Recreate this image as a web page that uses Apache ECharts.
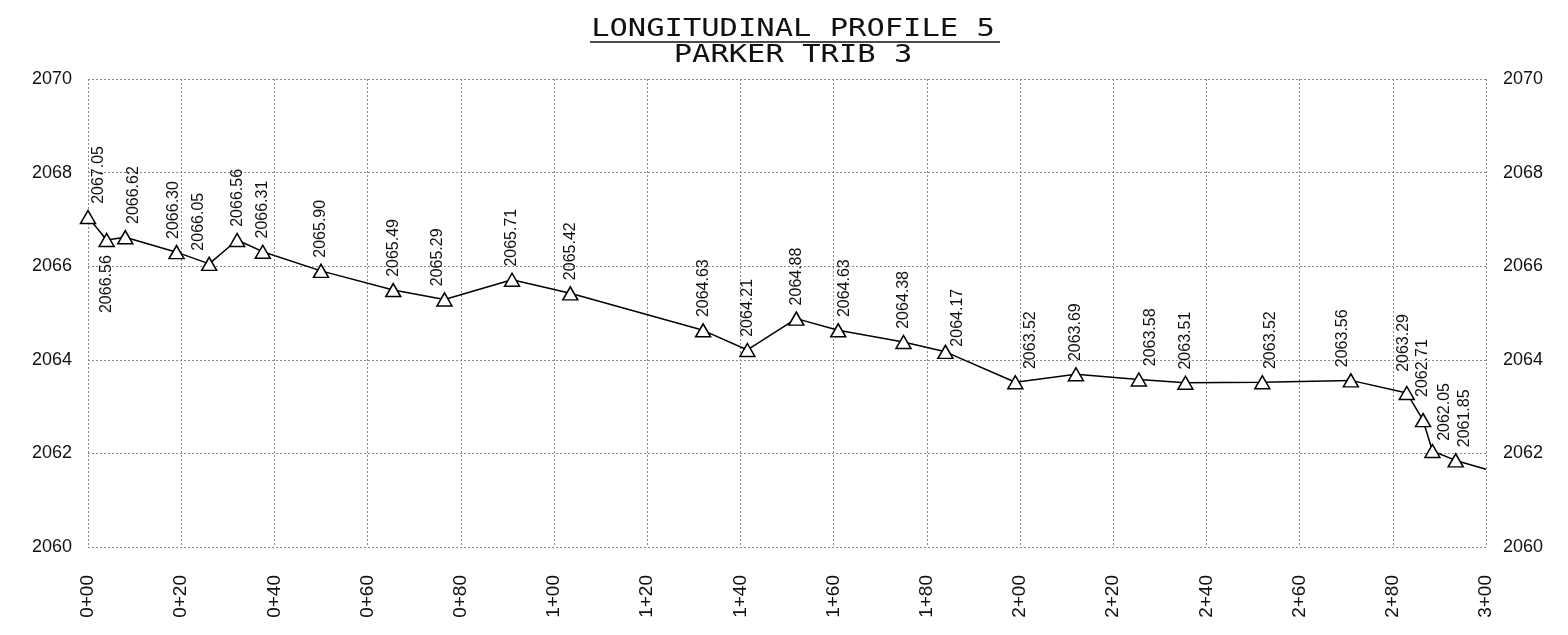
<!DOCTYPE html>
<html>
<head>
<meta charset="utf-8">
<script src="https://cdn.jsdelivr.net/npm/echarts@6/dist/echarts.min.js"></script>
<style>
  html, body { margin: 0; padding: 0; background: #ffffff; }
  #chart { width: 1568px; height: 635px; }
</style>
</head>
<body>
<div id="chart"></div>
<script>
// Survey stations along the channel (ft) and surveyed bed elevations (ft)
const stations = [0, 4, 8, 19, 26, 32, 37.5, 50, 65.5, 76.5, 91, 103.5, 132, 141.5, 152,
                  161, 175, 184, 199, 212, 225.5, 235.5, 252, 271, 283, 286.5, 288.5, 293.5];
const elevations = [2067.05, 2066.56, 2066.62, 2066.30, 2066.05, 2066.56, 2066.31, 2065.90,
                    2065.49, 2065.29, 2065.71, 2065.42, 2064.63, 2064.21, 2064.88, 2064.63,
                    2064.38, 2064.17, 2063.52, 2063.69, 2063.58, 2063.51, 2063.52, 2063.56,
                    2063.29, 2062.71, 2062.05, 2061.85];
// Profile continues to the end of the sheet without a surveyed shot
const profileEnd = [300, 2061.66];

// Axis ranges / ticks
const stationTicks = [0, 20, 40, 60, 80, 100, 120, 140, 160, 180, 200, 220, 240, 260, 280, 300];
const elevTicks = [2060, 2062, 2064, 2066, 2068, 2070];

const titleLines = ['LONGITUDINAL PROFILE 5', 'PARKER TRIB 3'];

// Elevation tags: the one under its marker, and hand nudges [right, down] in px
const tagBelow = new Set([1]);
const tagNudge = {
  0: [11, 0], 2: [8, 0], 3: [-3, 0], 4: [-11, 0], 9: [-7, 0], 15: [6, 0],
  17: [12, 8], 18: [15, 0], 20: [12, 0], 22: [8, 0], 23: [-8, 0],
  24: [-3, -8], 25: [0, -10], 26: [12, 3], 27: [9, 0]
};

function stationLabel(v) {
  const hundreds = Math.floor(v / 100);
  const rest = Math.round(v - hundreds * 100);
  return hundreds + '+' + (rest < 10 ? '0' + rest : rest);
}

const labelFont = { fontFamily: 'Liberation Sans', fontSize: 16, color: '#111' };

const profileData = stations.map((s, i) => {
  const below = tagBelow.has(i);
  const n = tagNudge[i] || [0, 0];
  // tags are turned 90deg, so the offset is given in the turned frame
  const offset = [-n[1], n[0]];
  return {
    value: [s, elevations[i]],
    label: below
      ? { position: 'bottom', align: 'right', verticalAlign: 'middle', distance: 8, offset: offset }
      : { position: 'top', align: 'left', verticalAlign: 'middle', distance: 6, offset: offset }
  };
});
profileData.push({ value: profileEnd, symbol: 'none', label: { show: false } });

const chart = echarts.init(document.getElementById('chart'), null, { renderer: 'canvas' });

const gridLine = { show: true, lineStyle: { color: '#8a8a8a', width: 1, type: [2, 2] } };
const yLabel = { fontFamily: 'Liberation Sans', fontSize: 18, color: '#111', formatter: v => String(v) };

const titleScale = 1.27;
const titleX = 793;
const titleFont = '24px "DejaVu Sans Mono"';

chart.setOption({
  animation: false,
  backgroundColor: '#ffffff',
  grid: { left: 88, right: 82, top: 79, bottom: 88, containLabel: false },
  xAxis: {
    type: 'value',
    min: stationTicks[0],
    max: stationTicks[stationTicks.length - 1],
    interval: stationTicks[1] - stationTicks[0],
    axisLine: { show: false },
    axisTick: { show: false },
    splitLine: gridLine,
    axisLabel: {
      rotate: 90,
      margin: 28,
      fontFamily: 'Liberation Sans',
      fontSize: 19,
      color: '#111',
      formatter: stationLabel
    }
  },
  yAxis: [
    {
      type: 'value',
      position: 'left',
      min: elevTicks[0],
      max: elevTicks[elevTicks.length - 1],
      interval: elevTicks[1] - elevTicks[0],
      axisLine: { show: false },
      axisTick: { show: false },
      splitLine: gridLine,
      axisLabel: Object.assign({ margin: 16 }, yLabel)
    },
    {
      type: 'value',
      position: 'right',
      min: elevTicks[0],
      max: elevTicks[elevTicks.length - 1],
      interval: elevTicks[1] - elevTicks[0],
      axisLine: { show: false },
      axisTick: { show: false },
      splitLine: { show: false },
      axisLabel: Object.assign({ margin: 17 }, yLabel)
    }
  ],
  graphic: [
    {
      type: 'text',
      x: titleX, y: 30, scaleX: titleScale, scaleY: 1,
      style: { text: titleLines[0], font: titleFont, fill: '#111',
               textAlign: 'center', textVerticalAlign: 'middle' }
    },
    {
      type: 'line',
      shape: { x1: 590, y1: 42, x2: 1000, y2: 42 },
      style: { stroke: '#111', lineWidth: 1.5 }
    },
    {
      type: 'text',
      x: titleX, y: 55.5, scaleX: titleScale, scaleY: 1,
      style: { text: titleLines[1], font: titleFont, fill: '#111',
               textAlign: 'center', textVerticalAlign: 'middle' }
    }
  ],
  series: [
    {
      type: 'line',
      data: profileData,
      symbol: 'triangle',
      symbolSize: [15, 13],
      showAllSymbol: true,
      lineStyle: { color: '#000', width: 1.5 },
      itemStyle: { color: '#ffffff', borderColor: '#000', borderWidth: 1.5 },
      label: Object.assign({
        show: true,
        rotate: 90,
        formatter: p => p.value[1].toFixed(2)
      }, labelFont),
      z: 3
    }
  ]
});
</script>
</body>
</html>
